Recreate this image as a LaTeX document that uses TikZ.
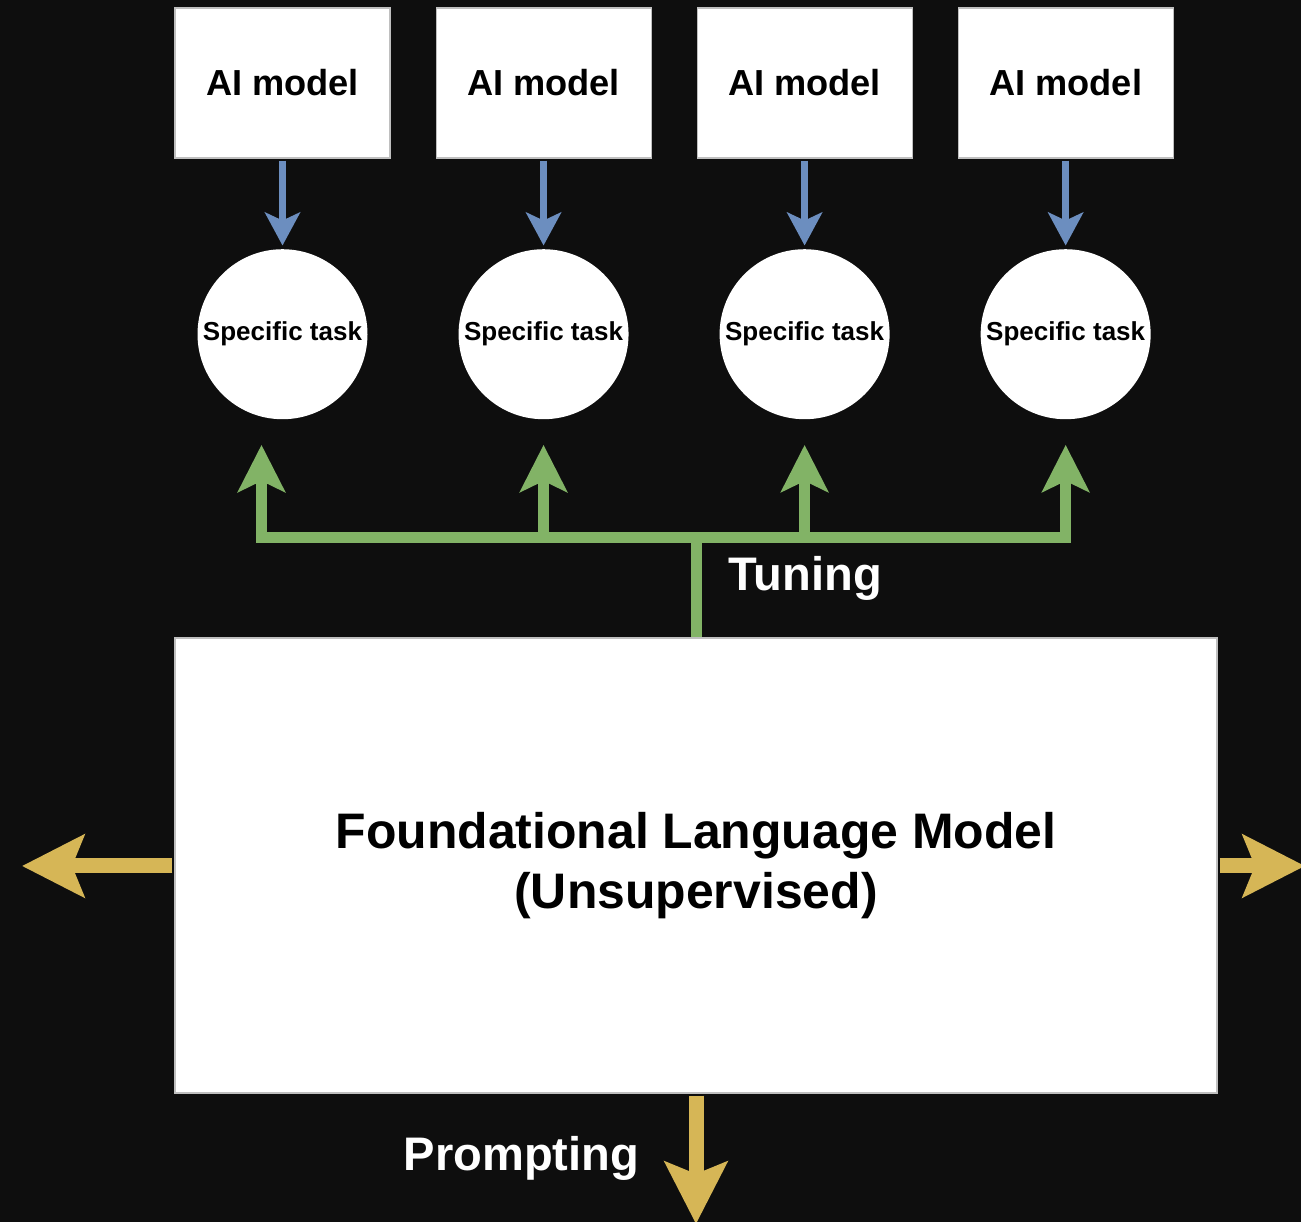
\documentclass[tikz,border=0pt]{standalone}
\usepackage{fontspec}
\setmainfont{Liberation Sans}
\usetikzlibrary{arrows.meta, positioning, calc}
\definecolor{bgdark}{HTML}{0E0E0E}
\definecolor{modelblue}{HTML}{6C8EBF}
\definecolor{tunegreen}{HTML}{82B366}
\definecolor{promptgold}{HTML}{D6B656}
\tikzset{
  model/.style   = {draw=gray!50, line width=0.3pt, fill=white, rectangle,
                    minimum width=21.5mm, minimum height=15mm, inner sep=0pt,
                    font=\fontsize{10.3}{12}\selectfont\bfseries},
  task/.style    = {draw=none, fill=white, circle, minimum size=17mm,
                    inner sep=0pt, font=\fontsize{7.4}{9}\selectfont\bfseries},
  base/.style    = {draw=gray!50, line width=0.3pt, fill=white, rectangle,
                    minimum width=104.2mm, minimum height=45.5mm, align=center,
                    font=\fontsize{14.2}{17}\selectfont\bfseries},
  label/.style   = {text=white, inner sep=0pt,
                    font=\fontsize{13.4}{15}\selectfont\bfseries},
  feed/.style    = {modelblue, line width=0.65mm,
                    -{Stealth[length=3.3mm, width=3.5mm, inset=0.8mm]}},
  tune/.style    = {tunegreen, line width=1.1mm},
  tunetip/.tip   = {Stealth[length=4.7mm, width=4.7mm, inset=1.1mm]},
  prompt/.style  = {promptgold, line width=1.5mm,
                    -{Stealth[length=6.2mm, width=6.2mm, inset=1.2mm]}},
}

\begin{document}
\begin{tikzpicture}[node distance = 9mm and 4.5mm]

  % ---------- background / page size ---------------------------------
  \fill[bgdark] (0,0) rectangle (13.01,-12.22);
  \useasboundingbox (0,0) rectangle (13.01,-12.22);

  % ---------- AI models and their tasks -------------------------------
  \node[model] (ai1) at (2.825,-0.83) {AI model};
  \node[model, right=of ai1] (ai2) {AI model};
  \node[model, right=of ai2] (ai3) {AI model};
  \node[model, right=of ai3] (ai4) {AI model};

  \foreach \i in {1,...,4} {
    \node[task, below=of ai\i] (task\i) {Specific task};
    \draw[feed, shorten <=0.2mm, shorten >=0.3mm] (ai\i.south) -- (task\i.north);
  }

  % ---------- foundational model --------------------------------------
  \node[base] (flm) at (6.96,-8.655)
    {Foundational Language Model\\(Unsupervised)};

  % ---------- tuning bus ----------------------------------------------
  \coordinate (bus) at (6.96,-5.38);
  \draw[tune] (flm.north) -- (bus);
  \draw[tune, tunetip-tunetip, shorten <=2.5mm, shorten >=2.5mm, line join=miter]
    ([xshift=-2.1mm]task1.south) -- ([xshift=-2.1mm]task1.south |- bus)
    -- (task4.south |- bus) -- (task4.south);
  \foreach \i in {2,3}
    \draw[tune, -tunetip, shorten >=2.5mm] (task\i.south |- bus) -- (task\i.south);
  \node[label, anchor=west] (tuning) at (7.28,-5.78) {Tuning};

  % ---------- prompting outputs ---------------------------------------
  \coordinate (outL) at (0.22,-8.66);
  \coordinate (outR) at (13.05,-8.66);
  \coordinate (outB) at (6.96,-12.24);
  \draw[prompt, shorten <=0.2mm] (flm.west |- outL) -- (outL);
  \draw[prompt, shorten <=0.2mm] (flm.east |- outR) -- (outR);
  \draw[prompt, shorten <=0.2mm] (flm.south) -- (outB);
  \node[label, anchor=east] (prompting) at (6.40,-11.58) {Prompting};
\end{tikzpicture}
\end{document}
